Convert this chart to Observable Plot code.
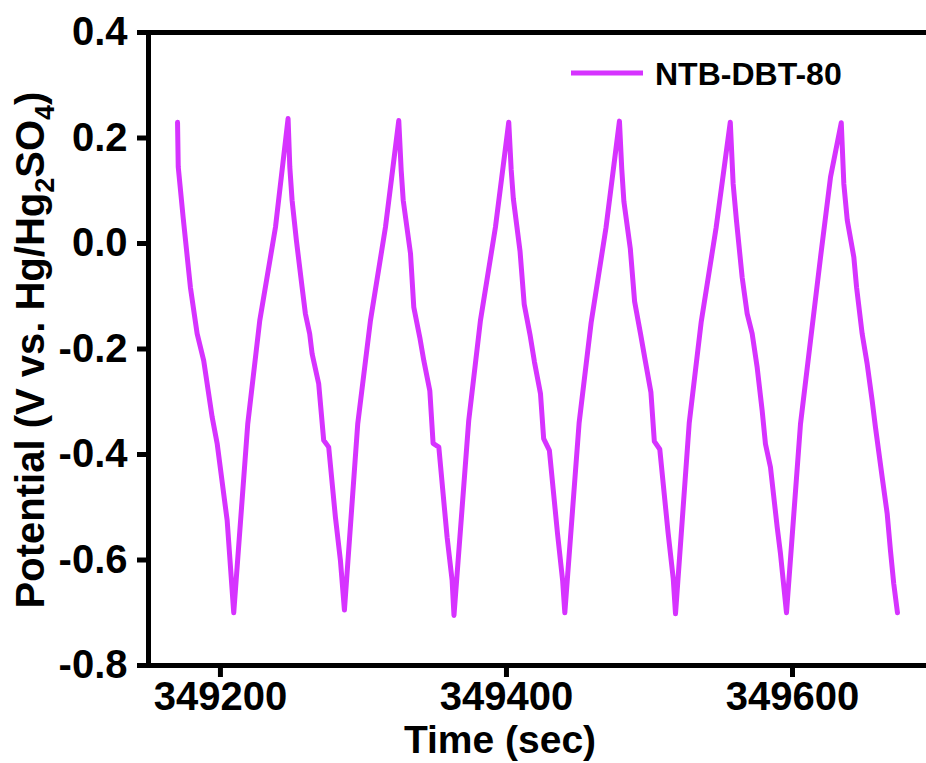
<!DOCTYPE html>
<html>
<head>
<meta charset="utf-8">
<script src="https://cdn.jsdelivr.net/npm/d3@7"></script>
<script src="https://cdn.jsdelivr.net/npm/@observablehq/plot@0.6"></script>
<style>
  html, body { margin: 0; padding: 0; background: #fff; }
  #chart svg g[aria-label$="axis tick"] path { stroke-width: 5px; }
  #chart svg .tick line { stroke-width: 5px; }
</style>
</head>
<body>
<div id="chart"></div>
<script>
// ---- data ----
const seriesName = "NTB-DBT-80";
const time = [
  349170.0, 349170.5, 349173.9, 349179.0, 349183.7, 349188.3, 349194.2, 349197.7, 349204.7, 349209.3,
  349219.1, 349227.5, 349238.5, 349247.3,
  349248.5, 349250.1, 349253.1, 349257.1, 349259.4, 349262.4, 349264.1, 349268.7, 349272.2, 349275.7, 349280.4, 349283.9, 349286.7,
  349296.0, 349304.9, 349315.4, 349324.7,
  349326.4, 349327.8, 349332.9, 349335.2, 349339.4, 349342.2, 349346.4, 349348.7, 349352.7, 349358.5, 349362.0, 349363.3,
  349373.6, 349381.8, 349392.3, 349401.6,
  349403.3, 349404.8, 349409.5, 349412.4, 349416.6, 349419.6, 349423.8, 349426.0, 349430.0, 349435.7, 349439.3, 349440.8,
  349450.8, 349459.2, 349469.6, 349479.0,
  349480.6, 349482.1, 349486.6, 349489.6, 349493.8, 349496.9, 349501.0, 349503.4, 349507.2, 349513.0, 349516.6, 349518.2,
  349527.8, 349536.2, 349546.6, 349556.5,
  349558.5, 349560.8, 349564.8, 349568.3, 349571.8, 349575.3, 349578.8, 349581.1, 349584.6, 349589.3, 349591.6, 349595.8,
  349605.6, 349612.6, 349619.6, 349626.6, 349634.1,
  349635.9, 349638.3, 349642.9, 349644.8, 349648.7, 349652.2, 349655.7, 349658.0, 349662.7, 349666.2, 349668.5, 349670.8, 349673.4
];
const potential = [
  0.230, 0.145, 0.050, -0.083, -0.171, -0.222, -0.329, -0.379, -0.525, -0.700,
  -0.342, -0.146, 0.031, 0.237,
  0.145, 0.082, 0.006, -0.083, -0.133, -0.171, -0.209, -0.266, -0.373, -0.386, -0.519, -0.601, -0.695,
  -0.342, -0.146, 0.031, 0.233,
  0.138, 0.082, -0.019, -0.121, -0.178, -0.222, -0.279, -0.379, -0.386, -0.557, -0.639, -0.705,
  -0.336, -0.146, 0.031, 0.230,
  0.140, 0.085, -0.015, -0.115, -0.175, -0.225, -0.285, -0.370, -0.392, -0.550, -0.640, -0.700,
  -0.340, -0.150, 0.030, 0.232,
  0.142, 0.080, -0.010, -0.110, -0.172, -0.220, -0.282, -0.375, -0.390, -0.548, -0.635, -0.702,
  -0.340, -0.148, 0.030, 0.230,
  0.113, 0.044, -0.064, -0.133, -0.171, -0.235, -0.317, -0.380, -0.424, -0.538, -0.588, -0.700,
  -0.342, -0.184, -0.026, 0.126, 0.229,
  0.113, 0.044, -0.026, -0.083, -0.171, -0.228, -0.298, -0.348, -0.443, -0.512, -0.582, -0.645, -0.700
];
const xTicks = [349200, 349400, 349600];
const yTicks = [-0.8, -0.6, -0.4, -0.2, 0.0, 0.2, 0.4];
const xDomain = [349149.7, 349693.7];
const yDomain = [-0.8, 0.4];
const xLabel = "Time (sec)";

const data = time.map((t, i) => ({t, v: potential[i]}));
const lineColor = "#d633ff";
const font = "'Liberation Sans', Arial, Helvetica, sans-serif";

const chart = Plot.plot({
  width: 926,
  height: 763,
  marginLeft: 148,
  marginRight: 0,
  marginTop: 32,
  marginBottom: 98,
  style: {fontFamily: font, fontSize: "40px", fontWeight: "bold", color: "black", background: "white", overflow: "visible"},
  x: {domain: xDomain, ticks: xTicks, tickFormat: d => String(d), tickSize: 12, tickPadding: 4, label: null},
  y: {domain: yDomain, ticks: yTicks, tickFormat: d => d.toFixed(1), tickSize: 11, tickPadding: 10, label: null},
  marks: [
    Plot.ruleY([yDomain[0], yDomain[1]], {stroke: "black", strokeWidth: 5}),
    Plot.ruleX([xDomain[0]], {stroke: "black", strokeWidth: 5}),
    Plot.line(data, {x: "t", y: "v", stroke: lineColor, strokeWidth: 5, strokeLinejoin: "round", strokeLinecap: "round"})
  ]
});
document.getElementById("chart").appendChild(chart);

const svg = d3.select(chart);
// x-axis title
svg.append("text")
  .attr("x", 500).attr("y", 753)
  .attr("text-anchor", "middle")
  .attr("font-family", font).attr("font-weight", "bold").attr("font-size", 39)
  .attr("fill", "black")
  .text(xLabel);

// y-axis title with subscripts
const yl = svg.append("text")
  .attr("transform", "translate(44,350) rotate(-90)")
  .attr("text-anchor", "middle")
  .attr("font-family", font).attr("font-weight", "bold").attr("font-size", 40)
  .attr("fill", "black");
yl.append("tspan").text("Potential (V vs. Hg/Hg");
yl.append("tspan").attr("dy", 10).attr("font-size", 27).text("2");
yl.append("tspan").attr("dy", -10).text("SO");
yl.append("tspan").attr("dy", 10).attr("font-size", 27).text("4");
yl.append("tspan").attr("dy", -10).text(")");

// legend
svg.append("line")
  .attr("x1", 571).attr("x2", 643).attr("y1", 73).attr("y2", 73)
  .attr("stroke", lineColor).attr("stroke-width", 5);
svg.append("text")
  .attr("x", 655).attr("y", 85)
  .attr("text-anchor", "start")
  .attr("font-family", font).attr("font-weight", "bold").attr("font-size", 32)
  .attr("fill", "black")
  .text(seriesName);
</script>
</body>
</html>
